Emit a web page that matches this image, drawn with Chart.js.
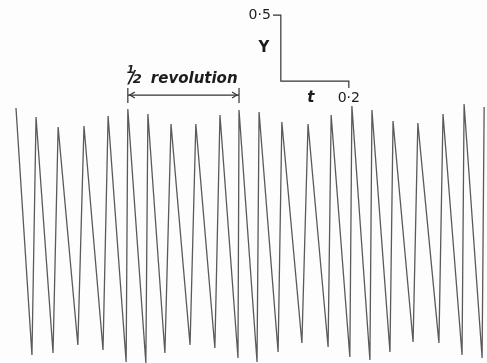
<!DOCTYPE html>
<html>
<head>
<meta charset="utf-8">
<script src="https://cdn.jsdelivr.net/npm/chart.js@4.4.1/dist/chart.umd.min.js"></script>
<style>
  html, body { margin: 0; padding: 0; background: #fdfdfd; }
  canvas { display: block; }
</style>
</head>
<body>
<canvas id="trace" width="487" height="363"></canvas>
<script>
// Trace: crest and trough of each cycle (t, Y in calibration units)
const peakT = [0.047, 0.106, 0.171, 0.247, 0.318, 0.376, 0.435, 0.503, 0.576, 0.647, 0.703,
               0.762, 0.829, 0.906, 0.974, 1.035, 1.094, 1.156, 1.229, 1.303, 1.365, 1.424];
const peakY = [1.932, 1.864, 1.788, 1.795, 1.871, 1.924, 1.886, 1.811, 1.811, 1.879, 1.917,
               1.902, 1.826, 1.811, 1.879, 1.947, 1.917, 1.833, 1.818, 1.886, 1.962, 1.939];
const troughT = [0.094, 0.156, 0.229, 0.303, 0.371, 0.429, 0.485, 0.559, 0.632, 0.700,
                 0.756, 0.818, 0.888, 0.965, 1.029, 1.088, 1.147, 1.215, 1.291, 1.359, 1.418];
const troughY = [0.061, 0.076, 0.136, 0.098, 0.008, 0.000, 0.076, 0.136, 0.114, 0.038,
                 0.008, 0.083, 0.152, 0.121, 0.045, 0.023, 0.083, 0.159, 0.152, 0.061, 0.038];

// Calibration bar: Y 0.5 up, t 0.2 across
const calT = [0.803, 0.826, 0.826, 1.026, 1.026];
const calY = [2.636, 2.636, 2.136, 2.136, 2.083];
const calLabels = { y: '0·5', yName: 'Y', t: '0·2', tName: 't' };

// Half a revolution, crest 6 to crest 11
const revStart = 5, revEnd = 10;
const revY = 2.030;
const revTickY = [1.970, 2.083];

const tracePts = [];
peakT.forEach((t, i) => {
    tracePts.push({ x: t, y: peakY[i] });
    if (i < troughT.length) tracePts.push({ x: troughT[i], y: troughY[i] });
});

const calPts = calT.map((t, i) => ({ x: t, y: calY[i] }));

const r0 = peakT[revStart], r1 = peakT[revEnd];
const revPts = [
    { x: r0, y: revTickY[1] }, { x: r0, y: revTickY[0] }, { x: r0, y: null },
    { x: r0, y: revY }, { x: r1, y: revY }, { x: r1, y: null },
    { x: r1, y: revTickY[1] }, { x: r1, y: revTickY[0] }
];

// Hand lettering on top of the traces
const lettering = {
    id: 'lettering',
    afterDatasetsDraw(chart) {
        const { ctx, scales: { x, y } } = chart;
        ctx.save();
        ctx.fillStyle = '#1c1c1c';
        ctx.strokeStyle = '#333';
        ctx.textBaseline = 'middle';

        // calibration bar
        const vx = x.getPixelForValue(calT[1]);
        const top = y.getPixelForValue(calY[1]);
        const hx = x.getPixelForValue(calT[3]);
        const hy = y.getPixelForValue(calY[2]);
        ctx.font = '14px "DejaVu Sans"';
        ctx.textAlign = 'right';
        ctx.fillText(calLabels.y, vx - 10, top);
        ctx.textAlign = 'center';
        ctx.font = 'bold 15px "DejaVu Sans"';
        ctx.fillText(calLabels.yName, vx - 17, (top + hy) / 2);
        ctx.font = '14px "DejaVu Sans"';
        ctx.fillText(calLabels.t, hx, hy + 17);
        ctx.font = 'italic bold 15px "DejaVu Sans"';
        ctx.fillText(calLabels.tName, hx - 38, hy + 17);

        // half revolution marker
        const bx0 = x.getPixelForValue(r0);
        const bx1 = x.getPixelForValue(r1);
        const by = y.getPixelForValue(revY);
        ctx.textAlign = 'left';
        ctx.textBaseline = 'alphabetic';
        ctx.font = 'italic bold 11px "DejaVu Sans"';
        ctx.fillText('1', bx0 - 1, by - 22);
        ctx.font = 'italic bold 17px "DejaVu Sans"';
        ctx.fillText('/', bx0 + 1, by - 12);
        ctx.font = 'italic bold 13px "DejaVu Sans"';
        ctx.fillText('2', bx0 + 5, by - 12);
        ctx.font = 'italic bold 15px "DejaVu Sans"';
        ctx.fillText('revolution', bx0 + 23, by - 12);

        // arrowheads just inside each end
        ctx.lineWidth = 1.2;
        ctx.beginPath();
        ctx.moveTo(bx0 + 7, by - 3); ctx.lineTo(bx0 + 2, by); ctx.lineTo(bx0 + 7, by + 3);
        ctx.moveTo(bx1 - 7, by - 3); ctx.lineTo(bx1 - 2, by); ctx.lineTo(bx1 - 7, by + 3);
        ctx.stroke();
        ctx.restore();
    }
};

new Chart(document.getElementById('trace'), {
    type: 'scatter',
    data: {
        datasets: [{
            data: tracePts,
            showLine: true,
            borderColor: '#5a5a5a',
            borderWidth: 1.3,
            pointRadius: 0,
            tension: 0,
            clip: false
        }, {
            data: calPts,
            showLine: true,
            borderColor: '#333',
            borderWidth: 1.2,
            pointRadius: 0,
            clip: false
        }, {
            data: revPts,
            showLine: true,
            spanGaps: false,
            borderColor: '#333',
            borderWidth: 1.2,
            pointRadius: 0,
            clip: false
        }]
    },
    options: {
        responsive: false,
        animation: false,
        events: [],
        layout: { padding: 0 },
        plugins: { legend: { display: false }, tooltip: { enabled: false } },
        scales: {
            x: { type: 'linear', min: 0, max: 1.4324, display: false },
            y: { type: 'linear', min: 0, max: 2.75, display: false }
        }
    },
    plugins: [lettering]
});
</script>
</body>
</html>
